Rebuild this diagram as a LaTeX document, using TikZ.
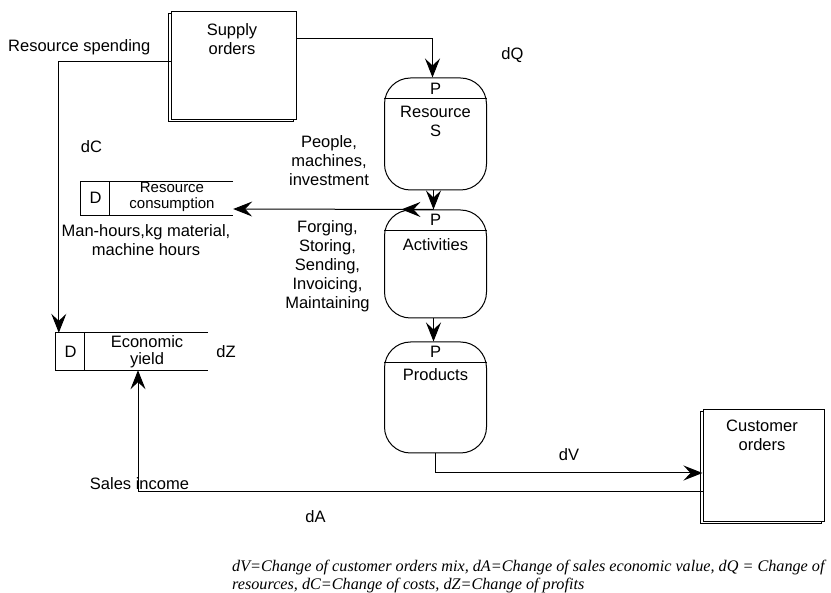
\documentclass[tikz,border=0pt]{standalone}
\usepackage{fontspec}
\setmainfont{Liberation Sans}
\newfontfamily\capfont{Liberation Serif}
\usepackage{tikz}
\usetikzlibrary{arrows.meta, positioning, calc, shadows, decorations.markings}

\begin{document}
\begin{tikzpicture}[x=1pt, y=-1pt,
  every node/.style={font=\fontsize{16.5}{19}\selectfont, inner sep=0pt},
  ext/.style={draw, line width=1pt, fill=white,
    copy shadow={shadow xshift=-2.5pt, shadow yshift=-2pt}},
  proc/.style={draw, line width=1pt, rounded corners=26pt, minimum width=102pt},
  store/.style={minimum width=152pt},
  flow/.style={draw, line width=1pt, -{Stealth[length=19pt, width=15pt, inset=7pt]}},
  midflow/.style={postaction={decorate, decoration={markings,
    mark=at position 0.16 with {\arrow{Stealth[length=19pt, width=15pt, inset=7pt]}}}}}]
  \useasboundingbox (0,0) rectangle (831,593);
  % External entities
  \node[ext, minimum width=125pt, minimum height=108pt] (sup) at (233.5,66) {};
  \node[align=center] (suptxt) at (232,39) {Supply\\orders};
  \node[ext, minimum width=121pt, minimum height=112pt] (cust) at (763.5,466) {};
  \node[align=center] (custxt) at (762,435) {Customer\\orders};
  % Processes
  \node[proc, minimum height=112pt] (res) at (435.5,134) {};
  \draw[line width=0.8pt] ([yshift=-21pt]res.north west) -- ([yshift=-21pt]res.north east);
  \node (resp) at (435.5,89) {P};
  \node[align=center] (restxt) at (435.5,121.5) {Resource\\S};
  \node[proc, minimum height=108pt] (act) at (435.5,264) {};
  \draw[line width=0.8pt] ([yshift=-21pt]act.north west) -- ([yshift=-21pt]act.north east);
  \node (actp) at (435.5,220) {P};
  \node (acttxt) at (435.5,245) {Activities};
  \node[proc, minimum height=111pt] (prod) at (435.5,397.5) {};
  \draw[line width=0.8pt] ([yshift=-21pt]prod.north west) -- ([yshift=-21pt]prod.north east);
  \node (prodp) at (435.5,352) {P};
  \node (prodtxt) at (435.5,375) {Products};
  % Data stores
  \node[store, minimum height=34pt] (rc) at (157,198.5) {};
  \draw[line width=0.8pt] (rc.north east) -- (rc.north west) -- (rc.south west) -- (rc.south east);
  \draw[line width=0.8pt] ([xshift=29pt]rc.north west) -- ([xshift=29pt]rc.south west);
  \node (rcd) at (95.5,197.5) {D};
  \node[align=center, font=\fontsize{15}{16}\selectfont] (rctxt) at (172,197) {Resource\\consumption};
  \node[store, minimum height=37pt] (ey) at (132,351.5) {};
  \draw[line width=0.8pt] (ey.north east) -- (ey.north west) -- (ey.south west) -- (ey.south east);
  \draw[line width=0.8pt] ([xshift=29pt]ey.north west) -- ([xshift=29pt]ey.south west);
  \node (eyd) at (70.5,352) {D};
  \node[align=center, font=\fontsize{16.5}{17}\selectfont] (eytxt) at (147,351.5) {Economic\\yield};
  % Flows
  \draw[flow] ([yshift=27pt]sup.east) -| ([xshift=-3pt]res.north);
  \draw[flow] ([yshift=4pt]sup.west) -| ([xshift=3pt]ey.north west);
  \draw[flow] ([xshift=-2pt]res.south) -- ([xshift=-2pt]act.north);
  \draw[flow, midflow] ([xshift=-2pt]act.north) -- ([yshift=-10.5pt]rc.east);
  \draw[flow] ([xshift=-2pt]act.south) -- ([xshift=-2pt]prod.north);
  \draw[flow] (prod.south) |- ([yshift=-7pt]cust.west);
  \draw[flow] ([yshift=-26pt]cust.west) -| ([xshift=6pt]ey.south);
  % Labels
  \node[anchor=west] (spend) at (8,47) {Resource spending};
  \node (dq) at (512.5,55) {dQ};
  \node (dc) at (91.5,147) {dC};
  \node[align=center] (people) at (329,161) {People,\\machines,\\investment};
  \node[align=center] (forg) at (327.5,266.5) {Forging,\\Storing,\\Sending,\\Invoicing,\\Maintaining};
  \node[align=center] (manh) at (146,240) {Man-hours,kg material,\\machine hours};
  \node (dz) at (226,352) {dZ};
  \node (dv) at (569,455) {dV};
  \node (sales) at (139.5,484) {Sales income};
  \node (da) at (315.5,517) {dA};
  % Caption
  \node[anchor=north west, align=left, font=\capfont\itshape\fontsize{16.2}{18}\selectfont] (cap) at (232,559.5)
    {dV=Change of customer orders mix, dA=Change of sales economic value, dQ = Change of\\
     resources, dC=Change of costs, dZ=Change of profits};
\end{tikzpicture}
\end{document}
